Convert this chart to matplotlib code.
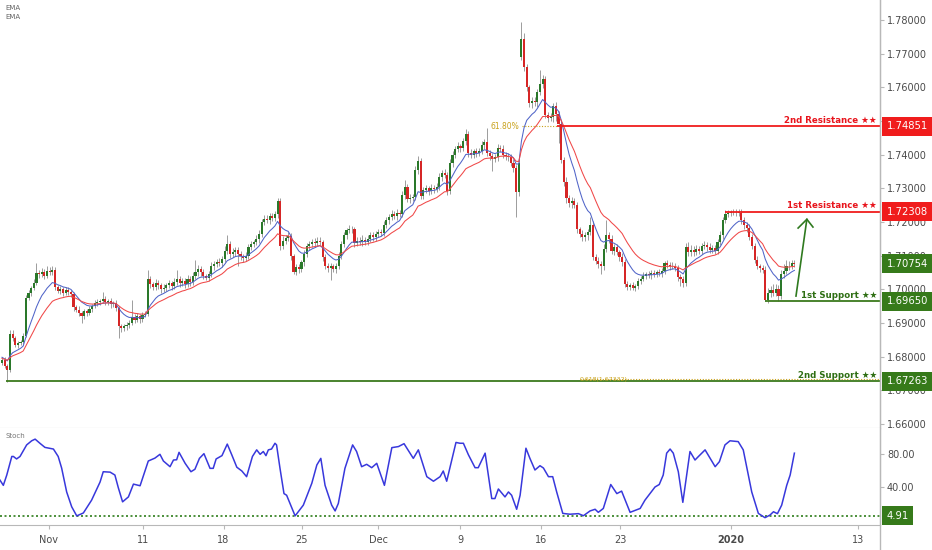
import numpy as np
import matplotlib.pyplot as plt
import matplotlib.transforms as mtransforms
from matplotlib.lines import Line2D

# 4h candles, bar 0 ~ 29 Oct 2019, last bar ~ 7 Jan 2020
closes = [
    1.6790, 1.6772, 1.6760, 1.6868, 1.6855, 1.6835, 1.6840, 1.6845, 1.6862, 1.6975,
    1.6990, 1.7005, 1.7020, 1.7048, 1.7045, 1.7052, 1.7040, 1.7055, 1.7050, 1.7058,
    1.7007, 1.6995, 1.7000, 1.6990, 1.6998, 1.6992, 1.6985, 1.6948, 1.6940, 1.6930,
    1.6920, 1.6935, 1.6930, 1.6942, 1.6950, 1.6958, 1.6962, 1.6965, 1.6972, 1.6962,
    1.6965, 1.6955, 1.6958, 1.6945, 1.6890, 1.6885, 1.6890, 1.6895, 1.6900, 1.6918,
    1.6910, 1.6920, 1.6912, 1.6925, 1.6928, 1.7030, 1.7015, 1.7008, 1.7020, 1.7012,
    1.7000, 1.7005, 1.7012, 1.7018, 1.7010, 1.7022, 1.7030, 1.7018, 1.7025, 1.7015,
    1.7030, 1.7022, 1.7040, 1.7052, 1.7060, 1.7050, 1.7040, 1.7035, 1.7045, 1.7068,
    1.7075, 1.7082, 1.7078, 1.7090, 1.7115, 1.7135, 1.7105, 1.7110, 1.7118, 1.7105,
    1.7098, 1.7092, 1.7100, 1.7125, 1.7135, 1.7140, 1.7150, 1.7165, 1.7200, 1.7210,
    1.7205, 1.7218, 1.7212, 1.7225, 1.7262, 1.7128, 1.7145, 1.7152, 1.7158, 1.7098,
    1.7052, 1.7065, 1.7060, 1.7080, 1.7105, 1.7128, 1.7135, 1.7142, 1.7138, 1.7145,
    1.7140, 1.7095, 1.7070, 1.7062, 1.7068, 1.7060, 1.7070, 1.7100, 1.7135, 1.7160,
    1.7175, 1.7180, 1.7178, 1.7138, 1.7145, 1.7140, 1.7148, 1.7142, 1.7150, 1.7160,
    1.7155, 1.7165, 1.7170, 1.7168, 1.7190, 1.7205, 1.7215, 1.7225, 1.7218, 1.7228,
    1.7225, 1.7280, 1.7305, 1.7268, 1.7272, 1.7275, 1.7355, 1.7380, 1.7278, 1.7295,
    1.7300, 1.7292, 1.7302, 1.7298, 1.7305, 1.7335, 1.7345, 1.7340, 1.7292, 1.7375,
    1.7400, 1.7418, 1.7425, 1.7420, 1.7440, 1.7462, 1.7405, 1.7400, 1.7410, 1.7405,
    1.7412, 1.7430, 1.7438, 1.7405, 1.7395, 1.7388, 1.7392, 1.7420, 1.7418, 1.7400,
    1.7395, 1.7392, 1.7375, 1.7360, 1.7288, 1.7375, 1.7745, 1.7660, 1.7600, 1.7553,
    1.7560, 1.7555, 1.7585, 1.7610, 1.7625, 1.7518, 1.7510, 1.7512, 1.7545, 1.7520,
    1.7490, 1.7384, 1.7319, 1.7270, 1.7255, 1.7262, 1.7250, 1.7178, 1.7165, 1.7155,
    1.7160, 1.7170, 1.7190, 1.7097, 1.7085, 1.7075, 1.7068, 1.7120, 1.7160, 1.7150,
    1.7115, 1.7125, 1.7110, 1.7095, 1.7080, 1.7015, 1.7008, 1.7012, 1.7005, 1.7010,
    1.7025, 1.7032, 1.7040, 1.7045, 1.7042, 1.7048, 1.7045, 1.7050, 1.7048, 1.7055,
    1.7078, 1.7072, 1.7068, 1.7070, 1.7062, 1.7038, 1.7030, 1.7018, 1.7126, 1.7110,
    1.7118, 1.7112, 1.7120, 1.7115, 1.7128, 1.7132, 1.7125, 1.7118, 1.7122, 1.7115,
    1.7140, 1.7160, 1.7205, 1.7225, 1.7228, 1.7230, 1.7229, 1.7230, 1.7228, 1.7205,
    1.7190, 1.7182, 1.7155, 1.7130, 1.7088, 1.7068, 1.7062, 1.7058, 1.6968, 1.6990,
    1.6998, 1.6990, 1.7002, 1.6980, 1.7045, 1.7055, 1.7068, 1.7070, 1.7078, 1.70754,
]
# wick lengths in pips (above body top / below body bottom)
up_wick = [
    6, 8, 5, 10, 12, 6, 8, 5, 9, 7,
    8, 6, 10, 30, 8, 12, 9, 14, 10, 12,
    8, 7, 10, 6, 9, 8, 5, 7, 6, 9,
    5, 8, 6, 9, 7, 10, 8, 6, 20, 9,
    7, 8, 6, 9, 5, 8, 6, 7, 9, 50,
    8, 10, 6, 9, 7, 27, 10, 8, 12, 9,
    8, 10, 7, 9, 8, 12, 27, 9, 10, 8,
    12, 9, 10, 35, 12, 8, 10, 7, 9, 12,
    10, 8, 12, 9, 15, 25, 10, 12, 8, 9,
    10, 8, 12, 9, 10, 8, 12, 10, 9, 11,
    12, 9, 10, 8, 8, 10, 12, 9, 11, 8,
    7, 9, 10, 8, 12, 9, 10, 8, 11, 9,
    10, 8, 9, 7, 10, 8, 9, 12, 10, 9,
    8, 10, 9, 8, 10, 9, 12, 8, 10, 9,
    11, 8, 10, 9, 12, 10, 8, 11, 9, 10,
    8, 12, 20, 9, 10, 8, 12, 15, 10, 9,
    11, 8, 10, 9, 12, 10, 9, 11, 8, 12,
    10, 9, 12, 8, 10, 13, 9, 11, 8, 10,
    9, 12, 10, 41, 9, 11, 10, 12, 9, 10,
    8, 10, 9, 12, 10, 12, 50, 15, 10, 8,
    12, 10, 9, 40, 12, 10, 9, 11, 8, 12,
    10, 12, 9, 15, 10, 12, 9, 10, 8, 12,
    9, 10, 25, 12, 9, 10, 8, 15, 46, 10,
    12, 9, 10, 8, 12, 10, 9, 8, 10, 7,
    9, 8, 10, 7, 9, 8, 10, 7, 9, 8,
    7, 9, 8, 10, 7, 9, 8, 10, 12, 15,
    14, 10, 12, 9, 11, 13, 10, 12, 9, 11,
    10, 12, 9, 10, 8, 7, 9, 8, 10, 12,
    10, 9, 12, 10, 9, 11, 8, 10, 12, 15,
    12, 18, 14, 10, 12, 20, 18, 14, 10, 8,
]
low_wick = [
    8, 6, 34, 5, 9, 7, 10, 6, 8, 5,
    7, 9, 6, 8, 10, 7, 9, 6, 8, 7,
    9, 7, 8, 10, 6, 9, 7, 12, 8, 10,
    20, 8, 10, 7, 9, 6, 8, 10, 7, 9,
    8, 10, 7, 9, 34, 12, 8, 10, 9, 7,
    10, 8, 12, 9, 7, 8, 12, 10, 9, 11,
    12, 9, 10, 8, 11, 9, 10, 12, 8, 10,
    9, 11, 8, 10, 12, 9, 10, 8, 11, 9,
    10, 8, 9, 11, 8, 10, 12, 9, 10, 37,
    12, 10, 9, 11, 8, 10, 9, 12, 10, 8,
    9, 11, 8, 10, 12, 10, 9, 11, 8, 12,
    7, 10, 12, 9, 11, 8, 10, 9, 12, 10,
    9, 12, 10, 11, 34, 10, 12, 9, 10, 8,
    10, 9, 11, 12, 10, 9, 12, 10, 11, 9,
    10, 12, 9, 11, 10, 8, 12, 10, 9, 11,
    10, 9, 12, 10, 11, 9, 10, 12, 10, 11,
    9, 12, 10, 11, 9, 10, 12, 9, 11, 10,
    12, 9, 10, 11, 9, 10, 12, 10, 9, 11,
    10, 9, 12, 10, 11, 38, 10, 12, 9, 11,
    10, 12, 9, 11, 73, 12, 10, 12, 10, 12,
    15, 10, 12, 9, 11, 10, 12, 10, 15, 20,
    55, 10, 12, 15, 10, 12, 9, 11, 10, 12,
    10, 12, 9, 11, 10, 12, 21, 10, 9, 11,
    10, 12, 9, 11, 10, 8, 9, 10, 7, 9,
    8, 10, 7, 9, 8, 10, 7, 9, 8, 10,
    9, 8, 10, 7, 9, 12, 20, 10, 9, 11,
    10, 12, 9, 11, 10, 9, 12, 10, 11, 9,
    10, 9, 11, 8, 10, 9, 8, 10, 9, 11,
    10, 12, 9, 11, 10, 9, 12, 10, 3, 10,
    12, 9, 11, 15, 10, 12, 9, 11, 10, 8,
]
first_open = 1.6782
gap_opens = {196: 1.7690}

ema_periods = [10, 20]
ema_seed = [1.6800, 1.6795]

stoch_bars = [
    -0.8, 0.5, 1.8, 3.7, 4.3, 5.5, 6.8, 9.3, 11.2, 12.5,
    14.3, 16.2, 19.4, 21.2, 22.5, 24.4, 26.3, 28.2, 30.7, 33.8,
    37.0, 38.2, 40.8, 42.6, 43.9, 45.5, 47.7, 49.6, 52.1, 55.2,
    57.7, 59.6, 60.9, 63.4, 64.7, 65.9, 66.8, 69.1, 71.3, 72.8,
    74.5, 76.2, 78.5, 79.7, 80.8, 83.0, 85.0, 86.7, 88.6, 90.5,
    92.3, 94.5, 96.1, 97.4, 98.6, 99.6, 100.5, 101.7, 103.0, 103.6,
    104.9, 106.4, 107.4, 110.6, 113.7, 116.9, 118.8, 120.3, 121.9, 124.4,
    125.7, 126.9, 129.4, 132.3, 133.8, 135.7, 137.6, 139.5, 141.4, 144.3,
    147.1, 149.6, 151.7, 155.2, 157.1, 160.3, 162.8, 165.3, 166.5, 167.8,
    171.3, 172.8, 174.1, 176.0, 178.5, 179.7, 182.3, 184.8, 186.0, 187.3,
    189.8, 191.1, 192.3, 194.2, 195.5, 197.7, 199.2, 201.1, 203.0, 204.3,
    206.2, 207.8, 209.3, 211.6, 214.3, 217.5, 219.4, 221.9, 223.8, 225.0,
    226.9, 229.7, 232.0, 233.8, 237.0, 240.8, 242.6, 244.5, 246.4, 248.0,
    249.5, 250.8, 252.1, 253.3, 255.2, 256.9, 259.6, 261.5, 262.8, 265.3,
    269.1, 270.7, 272.8, 274.7, 277.8, 279.7, 282.9, 285.4, 287.9, 289.8,
    291.1, 292.6, 294.2, 296.1, 297.4, 299.0,
]
stoch_vals = [
    48.5, 42, 54.5, 77, 77, 74, 77, 91, 96, 98,
    93, 88, 86, 77, 63, 34, 16, 5, 8.5, 24,
    46, 58.5, 58, 54.5, 39, 22, 28, 43.5, 41.5, 71.5,
    75, 79.6, 71.5, 64.6, 72.7, 73, 82, 68.7, 58.5, 61.5,
    74.7, 80.4, 62.6, 62.6, 74, 78, 92, 79, 64, 59.4,
    52.5, 77, 85, 79.6, 83, 78, 85, 86, 93, 91,
    62.6, 32, 30, 5, 18, 44.5, 66.7, 74.7, 42, 18,
    11, 20, 62.6, 91, 83, 64.6, 67.5, 63.4, 68.7, 42,
    87.7, 89, 92.5, 74.7, 85, 52.5, 47, 52.5, 59.4, 47,
    94, 93, 93, 79, 63.4, 63.4, 81, 26, 26, 37.6,
    28, 34, 30, 13, 30, 87, 74.7, 60.6, 65.8, 63,
    52.5, 52.5, 34, 8, 7, 7.7, 5.2, 11, 13, 9.3,
    14, 43, 32, 35, 9.3, 14, 24, 32, 40, 43,
    54.5, 81, 86, 81, 58.5, 21.4, 83, 72.7, 77, 85,
    64.6, 70.7, 91, 96, 95, 85, 34, 8, 2.8, 6,
    10, 7.7, 18, 42, 54.5, 81,
]
stoch_level = 4.91

date_ticks = [17.7, 53.2, 83.6, 113.2, 141.9, 172.8, 203.4, 233.2, 275.1, 323.0]
date_labels = ['Nov', '11', '18', '25', 'Dec', '9', '16', '23', '2020', '13']

level_prices = [1.74851, 1.72308, 1.69650, 1.67263]
level_names = ['2nd Resistance', '1st Resistance', '1st Support', '2nd Support']
level_start = [209.4, 272.8, 287.9, 1.5]
last_price = 1.70754

fib_prices = [1.74851, 1.67332]
fib_labels = ['61.80%', '0.618(1.67332)']
fib_from = [196.2, 218.1]
fib_to = [209.4, 331.3]

arrow_bars = [300.4, 303.7, 306.0]
arrow_prices = [1.7182, 1.7208, 1.7185]
arrow_tail = (299.6, 1.6980)

GREEN = '#2a782a'
RED = '#d62626'
BOX_RED = '#f01c1c'
BOX_GREEN = '#367a1a'
LINE_GREEN = '#3c7a1c'
GOLD = '#c9a21c'
GRID = '#b8b8b8'
TXT = '#4a4a4a'

plt.rcParams['font.family'] = ['DejaVu Sans']
fig = plt.figure(figsize=(9.32, 5.5), dpi=100)
W, H = 932.0, 550.0
ax = fig.add_axes([0, 1 - 428 / H, 880 / W, 428 / H])
ax2 = fig.add_axes([0, 25 / H, 880 / W, 97 / H])

xmin, xmax = -0.755, 331.3
ax.set_xlim(xmin, xmax)
ax2.set_xlim(xmin, xmax)
ax.set_ylim(1.65881, 1.78594)
ax2.set_ylim(-6.06, 111.5)

# candles
n = len(closes)
idx = np.arange(n)
opens = [first_open] + closes[:-1]
for k, v in gap_opens.items():
    opens[k] = v
o = np.array(opens)
c = np.array(closes)
top = np.maximum(o, c)
bot = np.minimum(o, c)
hi = top + np.array(up_wick) * 1e-4
lo = bot - np.array(low_wick) * 1e-4
ax.vlines(idx, lo, hi, color='#9c9c9c', lw=0.7, zorder=2)
cols = np.where(c >= o, GREEN, RED)
ax.bar(idx, np.maximum(top - bot, 0.00006), bottom=bot, width=0.8,
       color=cols, lw=0, zorder=3)

# EMAs
for period, seed, col in zip(ema_periods, ema_seed, ['#5064c8', '#f04848']):
    a = 2.0 / (period + 1)
    e = seed
    vals = []
    for v in closes:
        e = e + a * (v - e)
        vals.append(e)
    ax.plot(idx, vals, color=col, lw=0.75, zorder=4)

# support / resistance
yx = mtransforms.blended_transform_factory(ax.transAxes, ax.transData)
for p, name, x0 in zip(level_prices, level_names, level_start):
    col = BOX_RED if 'Resistance' in name else LINE_GREEN
    tcol = '#e8141c' if 'Resistance' in name else '#2f6f14'
    ax.plot([x0, xmax], [p, p], color=col, lw=1.3, zorder=5, solid_capstyle='butt')
    ax.text(330.2, p + 0.0004, name + ' \u2605\u2605', ha='right', va='bottom',
            fontsize=6.2, fontweight='bold', color=tcol, zorder=6)

for p, lab, x0, x1 in zip(fib_prices, fib_labels, fib_from, fib_to):
    ax.plot([x0, x1], [p, p], color=GOLD, lw=0.8, ls=(0, (1, 1.5)), zorder=4)
ax.text(195.3, fib_prices[0], fib_labels[0], ha='right', va='center',
        fontsize=5.5, color=GOLD, zorder=6)
ax.text(fib_from[1], fib_prices[1], fib_labels[1], ha='left', va='center',
        fontsize=4.5, color=GOLD, zorder=6)

# arrow
ax.plot([arrow_tail[0], arrow_bars[1]], [arrow_tail[1], arrow_prices[1]],
        color='#2f7a1f', lw=1.2, zorder=6)
ax.plot(arrow_bars, arrow_prices, color='#2f7a1f', lw=1.2, zorder=6)

# price axis
ax.yaxis.tick_right()
ax.set_yticks(np.arange(1.66, 1.7801, 0.01))
ax.yaxis.set_major_formatter(plt.FormatStrFormatter('%.5f'))
ax.tick_params(axis='y', length=3, color=GRID, labelsize=7, labelcolor=TXT, pad=2)
ax.tick_params(axis='x', bottom=False, labelbottom=False)

box_items = [(level_prices[0], BOX_RED), (level_prices[1], BOX_RED),
             (last_price, BOX_GREEN), (level_prices[2], BOX_GREEN),
             (level_prices[3], BOX_GREEN)]
for p, col in box_items:
    ax.text(1 + 6.5 / 880, p, '%.5f' % p, transform=yx, ha='left', va='center',
            fontsize=7.2, color='white', zorder=10, clip_on=False,
            bbox=dict(boxstyle='square,pad=0.45', fc=col, ec='none'))

for a_ in (ax, ax2):
    a_.spines['top'].set_visible(False)
    a_.spines['left'].set_visible(False)
    a_.spines['right'].set_color(GRID)
    a_.spines['bottom'].set_color(GRID)
    a_.set_facecolor('white')

# stochastic
ax2.plot(stoch_bars, stoch_vals, color='#3838dc', lw=1.1, zorder=3)
ax2.axhline(stoch_level, color='#2e7d1a', lw=1.2, ls=(0, (1.2, 1.5)), zorder=2)
ax2.yaxis.tick_right()
ax2.set_yticks([40, 80], ['40.00', '80.00'])
ax2.tick_params(axis='y', length=3, color=GRID, labelsize=7, labelcolor=TXT, pad=2)
yx2 = mtransforms.blended_transform_factory(ax2.transAxes, ax2.transData)
ax2.text(1 + 6.5 / 880, stoch_level, '%.2f' % stoch_level, transform=yx2,
         ha='left', va='center', fontsize=7.2, color='white', zorder=10,
         clip_on=False, bbox=dict(boxstyle='square,pad=0.45', fc=BOX_GREEN, ec='none'))
ax2.text(5 / 880, 0.92, 'Stoch', transform=ax2.transAxes, fontsize=5,
         color='#777777', va='center')

ax2.set_xticks(date_ticks, date_labels)
ax2.tick_params(axis='x', length=3, color=GRID, labelsize=7, labelcolor=TXT, pad=4)
for t in ax2.get_xticklabels():
    if t.get_text() == '2020':
        t.set_fontweight('bold')

fig.text(5 / W, 1 - 8 / H, 'EMA', fontsize=5, color='#666666', va='center')
fig.text(5 / W, 1 - 17 / H, 'EMA', fontsize=5, color='#666666', va='center')
fig.add_artist(Line2D([880 / W, 880 / W], [0, 1], color=GRID, lw=1,
                      transform=fig.transFigure))

fig.savefig('out.png', dpi=100, facecolor='white')
